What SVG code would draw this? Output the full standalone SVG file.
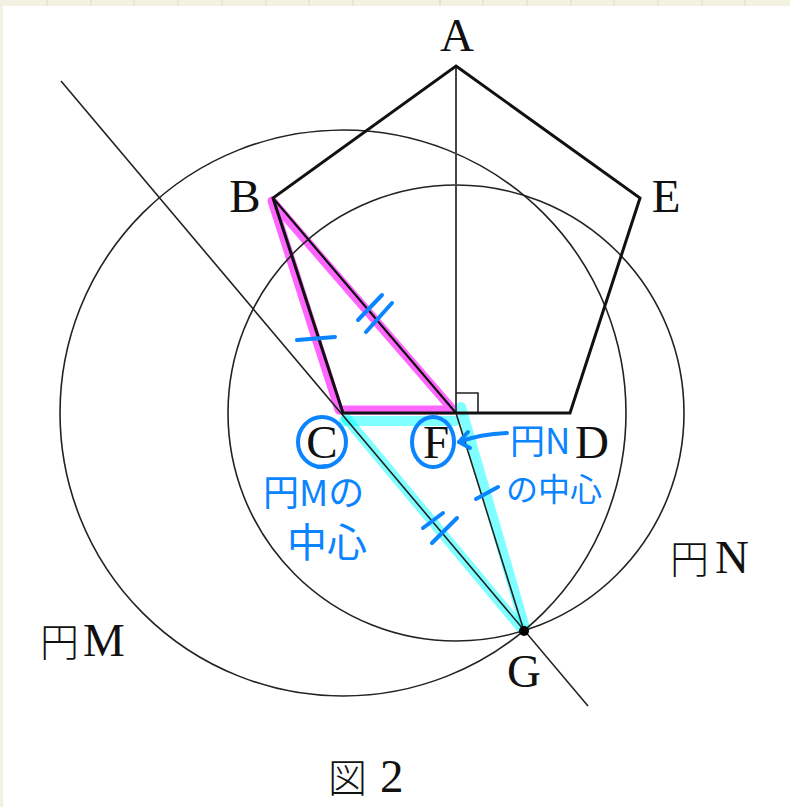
<svg xmlns="http://www.w3.org/2000/svg" width="790" height="807" viewBox="0 0 790 807">
<style>
.lbl{font-family:"Liberation Serif","DejaVu Serif",serif;font-size:47px;fill:#111;text-anchor:middle}
.lat{font-family:"Liberation Serif","DejaVu Serif",serif;font-size:47px;fill:#111}
.jp{font-family:"Noto Sans CJK JP",sans-serif;font-size:39px;fill:#111;font-weight:300}
.hand{font-family:"Noto Sans CJK JP",sans-serif;fill:#0a84ff;font-weight:400}
.thin{stroke:#222;stroke-width:1.6;fill:none}
.thick{stroke:#111;stroke-width:3;fill:none;stroke-linejoin:miter}
.blue{stroke:#0a84ff;stroke-width:4;fill:none;stroke-linecap:round;stroke-linejoin:round}
.mag{stroke:#ff00ff;stroke-opacity:0.6;stroke-width:9;fill:none;stroke-linecap:round;stroke-linejoin:round}
.cyan{stroke:#00ffff;stroke-opacity:0.5;stroke-width:10;fill:none;stroke-linecap:round;stroke-linejoin:round}
</style>
<rect width="790" height="807" fill="#fff"/>
<g id="background">
<rect x="0" y="0" width="790" height="6" fill="#f3f1e2"/>
<rect x="0" y="0" width="3" height="807" fill="#f3f1e2"/>
<g stroke="#dcd9c6" stroke-width="1">
<line x1="47" y1="0" x2="47" y2="6"/><line x1="91" y1="0" x2="91" y2="6"/><line x1="134" y1="0" x2="134" y2="6"/><line x1="178" y1="0" x2="178" y2="6"/><line x1="222" y1="0" x2="222" y2="6"/><line x1="266" y1="0" x2="266" y2="6"/><line x1="309" y1="0" x2="309" y2="6"/><line x1="353" y1="0" x2="353" y2="6"/><line x1="440" y1="0" x2="440" y2="6"/><line x1="483" y1="0" x2="483" y2="6"/><line x1="527" y1="0" x2="527" y2="6"/><line x1="571" y1="0" x2="571" y2="6"/><line x1="614" y1="0" x2="614" y2="6"/><line x1="658" y1="0" x2="658" y2="6"/><line x1="702" y1="0" x2="702" y2="6"/><line x1="745" y1="0" x2="745" y2="6"/>
</g>
</g>
<g id="highlights">
<path class="mag" d="M272 201 L339 410 L453 410 Z"/>
<path class="cyan" d="M344 421 L455 421"/>
<path class="cyan" d="M346 418 L522 629"/>
<path class="cyan" d="M461 407 L525 628"/>
</g>
<g id="connectors">
<circle id="circleM" class="thin" cx="343" cy="413" r="283"/>
<circle id="circleN" class="thin" cx="456" cy="413" r="228"/>
<line class="thin" x1="61" y1="81" x2="588" y2="706"/>
<line class="thin" x1="456" y1="413" x2="524" y2="631"/>
<line stroke="#444" stroke-width="2" x1="456" y1="66" x2="456" y2="413"/>
<polyline class="thin" points="456,393 478,393 478,413"/>
<line stroke="#111" stroke-width="2.2" x1="273" y1="198" x2="456" y2="413"/>
<polygon id="pentagon" class="thick" points="456,66 640,198 570,413 343,413 273,198"/>
</g>
<g id="A"><text class="lbl" x="457" y="51">A</text></g>
<g id="B"><text class="lbl" x="245" y="212">B</text></g>
<g id="E"><text class="lbl" x="666" y="212">E</text></g>
<g id="C"><text class="lbl" x="322" y="458">C</text></g>
<g id="F"><text class="lbl" x="436" y="458">F</text></g>
<g id="D"><text class="lbl" x="592" y="458">D</text></g>
<g id="G"><circle cx="524" cy="631" r="5" fill="#000"/><text class="lbl" x="524" y="687">G</text></g>
<g id="labelN"><text x="670" y="573"><tspan class="jp">円</tspan><tspan class="lat" x="715">N</tspan></text></g>
<g id="labelM"><text x="40" y="656"><tspan class="jp">円</tspan><tspan class="lat" x="83">M</tspan></text></g>
<g id="caption"><text x="328" y="792"><tspan class="jp">図</tspan><tspan class="lat" x="380" font-size="50">2</tspan></text></g>
<g id="annotations">
<ellipse class="blue" cx="322" cy="442" rx="24" ry="25"/>
<path class="blue" d="M318 467 L326 466"/>
<ellipse class="blue" cx="433" cy="442" rx="21" ry="25"/>
<path class="blue" d="M507 433 Q480 434 459 442"/>
<path class="blue" d="M468 432 L459 442 L470 448"/>
<line class="blue" x1="297" y1="340" x2="335" y2="337"/>
<line class="blue" x1="358" y1="320" x2="382" y2="295"/>
<line class="blue" x1="366" y1="332" x2="392" y2="303"/>
<line class="blue" x1="476" y1="499" x2="498" y2="487"/>
<line class="blue" x1="423" y1="528" x2="443" y2="513"/>
<line class="blue" x1="432" y1="543" x2="457" y2="518"/>
<text class="hand" x="510" y="454" font-size="35">円N</text>
<text class="hand" x="506" y="501" font-size="32">の中心</text>
<text class="hand" x="263" y="506" font-size="36">円Mの</text>
<text class="hand" x="287" y="557" font-size="40">中心</text>
</g>
</svg>
